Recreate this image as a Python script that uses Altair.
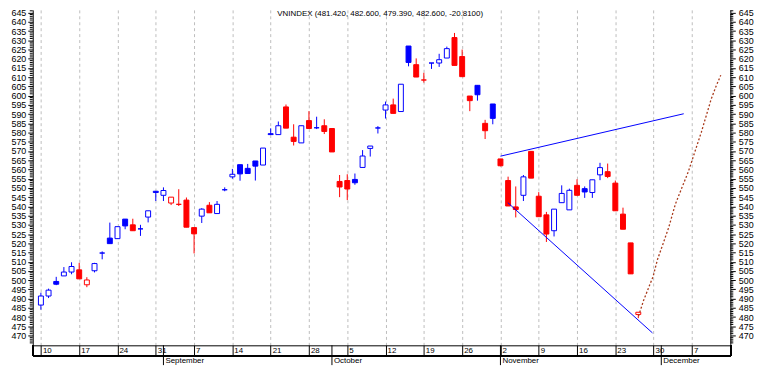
import altair as alt
import pandas as pd

# ---- candle data (trading-day index from Mon 10 Aug 2009) ----
opens = [486.5, 491.4, 499.3, 502.3, 504.4, 505.6, 497.5, 505.1, 514.7, 522.8,
         522.5, 533.1, 530.0, 527.8, 534.2, 548.2, 546.0, 541.8, 541.1, 543.4,
         528.5, 534.7, 540.6, 536.1, 549.0, 556.0, 562.6, 560.6, 564.6, 562.4,
         579.4, 578.9, 593.9, 577.5, 574.4, 586.5, 582.6, 583.7, 582.2, 553.5,
         554.0, 554.6, 561.1, 571.4, 582.5, 592.2, 595.0, 591.4, 626.9, 616.8,
         608.5, 617.7, 617.7, 620.4, 631.5, 621.2, 599.8, 605.6, 585.0, 595.5,
         565.7, 554.0, 539.7, 546.0, 569.8, 545.5, 535.4, 526.8, 542.0, 538.1,
         551.4, 549.6, 547.5, 557.1, 558.8, 552.6, 535.8, 520.2, 481.42]
highs = [493.2, 495.4, 501.8, 507.1, 509.7, 509.4, 501.6, 509.4, 515.6, 531.2,
         529.0, 533.1, 533.3, 530.0, 537.6, 548.2, 550.3, 545.0, 549.3, 544.8,
         528.5, 539.0, 542.3, 542.9, 550.3, 560.3, 562.6, 563.0, 564.6, 571.6,
         582.3, 586.0, 595.2, 584.5, 583.7, 591.6, 588.6, 587.2, 582.2, 557.0,
         557.4, 557.8, 570.5, 572.7, 583.5, 596.8, 598.4, 606.2, 626.9, 620.2,
         612.4, 617.7, 622.7, 626.6, 634.0, 625.0, 599.8, 605.6, 586.9, 595.5,
         565.7, 556.1, 550.8, 557.0, 569.8, 547.7, 537.0, 538.5, 551.4, 549.6,
         554.7, 550.8, 554.4, 563.6, 563.2, 554.0, 539.3, 520.2, 482.6]
lows = [484.0, 490.3, 497.3, 502.3, 503.2, 500.7, 496.2, 504.2, 511.3, 519.8,
        522.5, 527.6, 526.8, 524.0, 531.3, 542.9, 542.9, 540.7, 540.2, 528.7,
        514.5, 531.0, 536.5, 536.1, 548.2, 555.0, 553.9, 557.8, 554.0, 562.4,
        578.9, 578.9, 582.4, 573.0, 574.4, 582.2, 581.9, 579.2, 569.5, 545.0,
        543.4, 551.7, 561.1, 567.0, 579.5, 587.6, 590.4, 591.4, 615.9, 610.1,
        607.1, 614.5, 615.6, 620.4, 616.4, 610.3, 591.6, 597.3, 576.5, 584.5,
        561.7, 540.2, 534.0, 542.9, 555.3, 534.4, 520.7, 523.7, 542.0, 538.1,
        546.0, 544.6, 544.6, 554.2, 555.3, 537.6, 527.6, 503.4, 479.39]
closes = [491.4, 494.6, 497.8, 504.4, 507.4, 500.7, 500.1, 509.0, 514.7, 519.8,
          529.0, 529.4, 526.8, 527.8, 537.6, 547.5, 548.6, 545.0, 541.1, 528.7,
          525.1, 538.5, 536.5, 541.1, 549.0, 557.4, 557.6, 557.8, 561.8, 571.6,
          578.9, 583.7, 582.4, 575.2, 583.7, 582.2, 582.6, 580.6, 569.5, 550.5,
          549.4, 552.8, 567.3, 572.7, 582.5, 595.0, 590.4, 606.2, 618.0, 610.1,
          608.5, 617.7, 619.5, 625.5, 616.4, 610.3, 597.3, 600.5, 581.0, 587.7,
          562.0, 540.2, 538.3, 556.0, 555.3, 534.4, 525.0, 538.5, 547.0, 548.7,
          546.0, 547.8, 554.4, 561.0, 556.2, 537.6, 527.6, 503.41, 482.6]

# ---- axis tick labels ----
week_idx = [0, 5, 10, 15, 20, 25, 30, 35, 40, 45, 50, 55, 60, 65, 70, 75, 80, 85]
week_labels = ["10", "17", "24", "31", "7", "14", "21", "28", "5", "12", "19", "26",
               "2", "9", "16", "23", "30", "7"]
month_idx = [16, 38, 60, 81]
month_labels = ["September", "October", "November", "December"]
major_ticks = list(range(470, 646, 5))
minor_ticks = [v for v in range(465, 647) if v % 5 != 0]

# ---- trend lines ----
upper_x = [60.0, 83.93]
upper_y = [567.2, 590.2]
lower_x = [60.96, 79.85]
lower_y = [542.0, 471.4]
proj_x = [78.03, 78.67, 79.43, 79.94, 80.49, 81.21, 81.98, 82.83, 83.67, 84.53,
          85.38, 86.22, 86.86, 87.49, 88.13, 88.77]
proj_y = [480.5, 488.8, 496.8, 502.1, 511.0, 519.5, 528.7, 541.1, 549.9, 558.8,
          569.5, 580.1, 589.0, 597.8, 604.9, 611.1]

title_text = "VNINDEX (481.420, 482.600, 479.390, 482.600, -20.8100)"
title_idx = 44.3

BLUE = "#0000ff"
RED = "#ff0000"
FONT = "Liberation Sans"

rows = []
for i, (o, h, l, c) in enumerate(zip(opens, highs, lows, closes)):
    prev = closes[i - 1] if i > 0 else o
    col = BLUE if c >= prev else RED
    fill = col if c < o else "#ffffff"
    rows.append(dict(idx=i, open=o, high=h, low=l, close=c, col=col, fill=fill))
candles = pd.DataFrame(rows)

lines = pd.DataFrame(
    [dict(line="up", idx=x, value=y) for x, y in zip(upper_x, upper_y)]
    + [dict(line="low", idx=x, value=y) for x, y in zip(lower_x, lower_y)]
)
proj = pd.DataFrame(dict(idx=proj_x, value=proj_y))
weeks = pd.DataFrame(dict(idx=week_idx, label=week_labels))
months = pd.DataFrame(dict(idx=month_idx, label=month_labels))
minors = pd.DataFrame(dict(tick=minor_ticks))
title_df = pd.DataFrame(dict(idx=[title_idx], label=[title_text]))

W, H = 705, 339
xs = alt.Scale(domain=[-0.42, 89.37], nice=False, zero=False)
ys = alt.Scale(domain=[464.68, 646.5], nice=False, zero=False)

x_axis = alt.Axis(values=week_idx, grid=True, gridDash=[3, 3], gridColor="#bdbdbd",
                  gridWidth=1, labels=False, ticks=True, tickSize=10, tickColor="black",
                  domain=True, domainColor="black", title=None)
y_left = alt.Axis(orient="left", values=major_ticks, tickSize=5, tickColor="black",
                  labelPadding=2, labelFont=FONT, labelFontSize=9, labelColor="black",
                  domainColor="black", grid=False, title=None, labelOverlap=False)
y_right = alt.Axis(orient="right", values=major_ticks, tickSize=5, tickColor="black",
                   labelPadding=3, labelFont=FONT, labelFontSize=9, labelColor="black",
                   domainColor="black", grid=False, title=None, labelOverlap=False)

X = lambda f="idx": alt.X(f"{f}:Q", scale=xs, axis=x_axis)

wicks = alt.Chart(candles).mark_rule(strokeWidth=1).encode(
    x=X(), y=alt.Y("low:Q", scale=ys, axis=y_left), y2="high:Q",
    color=alt.Color("col:N", scale=None))
bodies = alt.Chart(candles).mark_bar(size=5, strokeWidth=1).encode(
    x=X(), y=alt.Y("open:Q", scale=ys, axis=y_left), y2="close:Q",
    fill=alt.Fill("fill:N", scale=None), stroke=alt.Stroke("col:N", scale=None))
trend = alt.Chart(lines).mark_line(strokeWidth=1, color=BLUE).encode(
    x=X(), y=alt.Y("value:Q", scale=ys, axis=y_left), detail="line:N")
projection = alt.Chart(proj).mark_line(strokeWidth=1.3, color="#a8391a",
                                       strokeDash=[2, 2]).encode(
    x=X(), y=alt.Y("value:Q", scale=ys, axis=y_left))
title = alt.Chart(title_df).mark_text(font=FONT, fontSize=8, baseline="top",
                                      align="center", color="black").encode(
    x=X(), y=alt.value(0), text="label:N")
minor_left = alt.Chart(minors).mark_rule(color="black", strokeWidth=1).encode(
    y=alt.Y("tick:Q", scale=ys, axis=y_left), x=alt.value(-3), x2=alt.value(0))

# bottom date box
day_bottom = alt.Chart(weeks).mark_rule(color="black").encode(
    x=alt.value(0.5), x2=alt.value(W + 0.5), y=alt.value(H + 10.5))
left_edge = alt.Chart(weeks).mark_rule(color="black").encode(
    x=alt.value(0.5), y=alt.value(H), y2=alt.value(H + 10.5))
right_edge = alt.Chart(weeks).mark_rule(color="black").encode(
    x=alt.value(W + 0.5), y=alt.value(H), y2=alt.value(H + 10.5))
month_sep = alt.Chart(months).mark_rule(color="black").encode(
    x=X(), y=alt.value(H), y2=alt.value(H + 20))
day_text = alt.Chart(weeks).mark_text(font=FONT, fontSize=8, align="left",
                                      baseline="middle", dx=2, color="black").encode(
    x=X(), y=alt.value(H + 5.5), text="label:N")
month_text = alt.Chart(months).mark_text(font=FONT, fontSize=8, align="left",
                                         baseline="middle", dx=2, color="black").encode(
    x=X(), y=alt.value(H + 16), text="label:N")

inner = alt.layer(wicks, bodies, trend, projection, title, minor_left,
                  day_bottom, left_edge, right_edge, month_sep, day_text, month_text)

minor_right = alt.Chart(minors).mark_rule(color="black", strokeWidth=1).encode(
    y=alt.Y("tick:Q", scale=ys, axis=y_right), x=alt.value(W), x2=alt.value(W + 3))

chart = alt.layer(inner, minor_right).resolve_axis(y="independent").properties(
    width=W, height=H,
    padding={"left": 25, "top": 0, "right": 32, "bottom": 20},
    autosize=alt.AutoSizeParams(type="none"),
    background="white",
).configure_view(strokeWidth=0)

chart.save("out.html", embed_options={"renderer": "svg", "actions": False})
